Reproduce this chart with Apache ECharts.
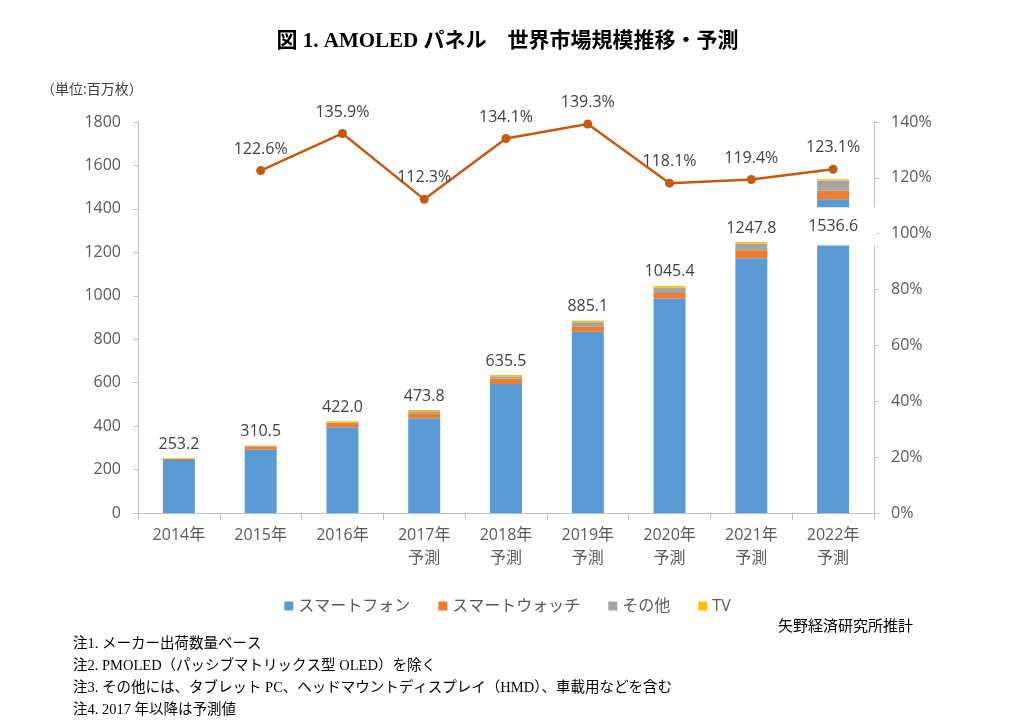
<!DOCTYPE html>
<html>
<head>
<meta charset="utf-8">
<script src="https://cdn.jsdelivr.net/npm/echarts@6/dist/echarts.min.js"></script>
<style>
html,body{margin:0;padding:0;background:#fff;}
#chart{width:1015px;height:720px;}
</style>
</head>
<body>
<div id="chart"></div>
<script>
// ---- data ----
const categories = ['2014年','2015年','2016年','2017年\n予測','2018年\n予測','2019年\n予測','2020年\n予測','2021年\n予測','2022年\n予測'];
const smartphone = [244, 291, 395, 436, 594, 834, 987, 1172.5, 1444.6];
const smartwatch = [5, 14, 20, 23, 24.5, 26, 26, 37, 40];
const others     = [1.5, 3, 3, 9, 11, 18, 24.5, 30.6, 46];
const tv         = [2.7, 2.5, 4, 5.8, 6, 7.1, 7.9, 7.7, 6.0];
const totals     = [253.2, 310.5, 422.0, 473.8, 635.5, 885.1, 1045.4, 1247.8, 1536.6];
const growth     = [null, 122.6, 135.9, 112.3, 134.1, 139.3, 118.1, 119.4, 123.1];
const leftTicks  = {min: 0, max: 1800, interval: 200};
const rightTicks = {min: 0, max: 140, interval: 20};
const breakIndex = 8;            // bar drawn with a visual break
const breakRange = [1232, 1408]; // value range hidden by the break

const seriesNames = ['スマートフォン','スマートウォッチ','その他','TV'];
const colors = ['#5B9BD5','#ED7D31','#A5A5A5','#FFC000'];
const sans = "'Open Sans','Noto Sans CJK JP',sans-serif";
const serif = "'Liberation Serif','Noto Sans CJK JP',serif";

const chart = echarts.init(document.getElementById('chart'), null, {renderer: 'canvas'});

function barSeries(name, data, color, withLabel) {
  const s = {
    name: name, type: 'bar', stack: 'total', data: data, barWidth: 32,
    itemStyle: {color: color}, yAxisIndex: 0, z: 2
  };
  if (withLabel) {
    s.label = {
      show: true, position: 'top', distance: 6,
      color: '#404040', fontSize: 16, fontFamily: sans,
      formatter: p => p.dataIndex === breakIndex ? '' : totals[p.dataIndex].toFixed(1)
    };
  }
  return s;
}

const option = {
  backgroundColor: '#fff',
  animation: false,
  color: colors,
  title: [
    {text: '図 1. AMOLED パネル　世界市場規模推移・予測', left: 'center', top: 26,
     textStyle: {fontSize: 21, fontWeight: 'bold', color: '#000', fontFamily: serif}},
    {text: '（単位:百万枚）', left: 36, top: 78,
     textStyle: {fontSize: 14, fontWeight: 'normal', color: '#404040', fontFamily: sans}},
    {text: '矢野経済研究所推計', right: 97, top: 615,
     textStyle: {fontSize: 15, fontWeight: 'normal', color: '#000', fontFamily: serif}},
    {text: '注1. メーカー出荷数量ベース\n注2. PMOLED（パッシブマトリックス型 OLED）を除く\n注3. その他には、タブレット PC、ヘッドマウントディスプレイ（HMD）、車載用などを含む\n注4. 2017 年以降は予測値',
     left: 68, top: 628,
     textStyle: {fontSize: 14.5, fontWeight: 'normal', color: '#000', fontFamily: serif, lineHeight: 22}}
  ],
  legend: {
    data: seriesNames, left: 'center', top: 593,
    icon: 'rect', itemWidth: 9, itemHeight: 9, itemGap: 28,
    textStyle: {fontSize: 16, color: '#595959', fontFamily: sans}
  },
  grid: {left: 138, right: 141, top: 122, bottom: 207, containLabel: false},
  xAxis: {
    type: 'category', data: categories,
    axisLine: {lineStyle: {color: '#BFBFBF'}},
    axisTick: {show: true, length: 7, alignWithLabel: false, lineStyle: {color: '#BFBFBF'}},
    axisLabel: {color: '#595959', fontSize: 16, fontFamily: sans, margin: 11, lineHeight: 23, interval: 0}
  },
  yAxis: [
    {type: 'value', min: leftTicks.min, max: leftTicks.max, interval: leftTicks.interval,
     axisLine: {show: true, lineStyle: {color: '#BFBFBF'}},
     axisTick: {show: true, length: 5, lineStyle: {color: '#BFBFBF'}},
     splitLine: {show: false},
     axisLabel: {color: '#595959', fontSize: 16, fontFamily: sans, margin: 17, formatter: v => String(v)}},
    {type: 'value', position: 'right', min: rightTicks.min, max: rightTicks.max, interval: rightTicks.interval,
     axisLine: {show: true, lineStyle: {color: '#BFBFBF'}},
     axisTick: {show: true, length: 5, lineStyle: {color: '#BFBFBF'}},
     splitLine: {show: false},
     axisLabel: {color: '#595959', fontSize: 16, fontFamily: sans, margin: 17, formatter: v => v + '%'}}
  ],
  series: [
    barSeries(seriesNames[0], smartphone, colors[0], false),
    barSeries(seriesNames[1], smartwatch, colors[1], false),
    barSeries(seriesNames[2], others, colors[2], false),
    barSeries(seriesNames[3], tv, colors[3], true),
    {
      name: 'break', type: 'custom', xAxisIndex: 0, yAxisIndex: 0, z: 10, silent: true,
      data: [[breakIndex, breakRange[0], breakRange[1]]],
      renderItem: function (params, api) {
        const idx = api.value(0);
        const lo = api.coord([idx, api.value(1)]);
        const hi = api.coord([idx, api.value(2)]);
        const bw = api.size([1, 0])[0];
        const x0 = lo[0] - bw * 0.3;
        const x1 = lo[0] + bw / 2 + 2;
        return {
          type: 'group',
          children: [
            {type: 'rect', shape: {x: x0, y: hi[1], width: x1 - x0, height: lo[1] - hi[1]},
             style: {fill: '#ffffff'}},
            {type: 'text', style: {text: totals[idx].toFixed(1), x: lo[0], y: (lo[1] + hi[1]) / 2,
             align: 'center', verticalAlign: 'middle', fill: '#404040', fontSize: 16, fontFamily: sans}}
          ]
        };
      }
    },
    {
      name: '前年比', type: 'line', yAxisIndex: 1, data: growth, z: 5,
      symbol: 'circle', symbolSize: 9,
      lineStyle: {color: '#C55A11', width: 2.5},
      itemStyle: {color: '#C55A11'},
      label: {show: true, position: 'top', distance: 9, color: '#404040', fontSize: 16, fontFamily: sans,
              formatter: p => p.value == null ? '' : p.value.toFixed(1) + '%'}
    }
  ]
};
chart.setOption(option);
</script>
</body>
</html>
